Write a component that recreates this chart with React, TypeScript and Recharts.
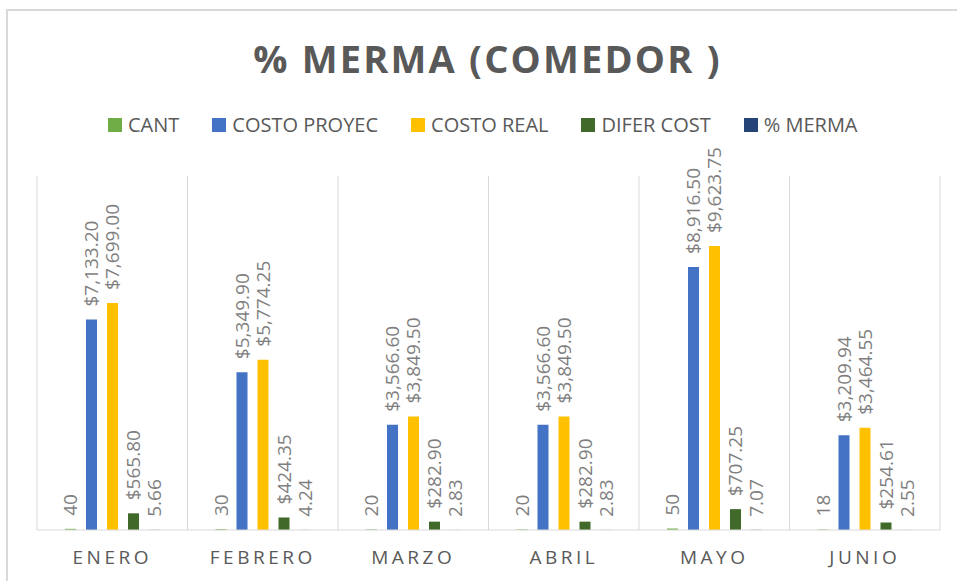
import React from 'react';
import { BarChart, Bar, XAxis, YAxis, CartesianGrid, LabelList } from 'recharts';

const months = ['ENERO', 'FEBRERO', 'MARZO', 'ABRIL', 'MAYO', 'JUNIO'];
const cant = [40, 30, 20, 20, 50, 18];
const costoProyec = [7133.2, 5349.9, 3566.6, 3566.6, 8916.5, 3209.94];
const costoReal = [7699.0, 5774.25, 3849.5, 3849.5, 9623.75, 3464.55];
const diferCost = [565.8, 424.35, 282.9, 282.9, 707.25, 254.61];
const merma = [5.66, 4.24, 2.83, 2.83, 7.07, 2.55];

const FONT = '"Open Sans", sans-serif';

const series = [
  { key: 'cant', name: 'CANT', color: '#70AD47', fmt: 'int' },
  { key: 'proyec', name: 'COSTO PROYEC', color: '#4472C4', fmt: 'money' },
  { key: 'real', name: 'COSTO REAL', color: '#FFC000', fmt: 'money' },
  { key: 'difer', name: 'DIFER COST', color: '#416A2A', fmt: 'money' },
  { key: 'merma', name: '% MERMA', color: '#264478', fmt: 'dec' },
];

const data = months.map((m, i) => ({
  month: m,
  cant: cant[i],
  proyec: costoProyec[i],
  real: costoReal[i],
  difer: diferCost[i],
  merma: merma[i],
}));

const formatValue = (v: number, fmt: string) => {
  if (fmt === 'int') return String(v);
  const s = v.toLocaleString('en-US', { minimumFractionDigits: 2, maximumFractionDigits: 2 });
  return fmt === 'money' ? `$${s}` : s;
};

const makeLabel = (fmt: string) => (props: any) => {
  const { x, y, width, value } = props;
  const cx = Number(x) + Number(width) / 2;
  const ty = Number(y) - 13;
  return (
    <text
      x={cx}
      y={ty}
      transform={`rotate(-90, ${cx}, ${ty})`}
      textAnchor="start"
      dominantBaseline="central"
      fill="#7F7F7F"
      fontSize={19}
      fontFamily={FONT}
    >
      {formatValue(value, fmt)}
    </text>
  );
};

const MonthTick = ({ x, y, payload }: any) => (
  <text
    x={x}
    y={y + 27}
    textAnchor="middle"
    dominantBaseline="central"
    fill="#595959"
    fontSize={19}
    fontFamily={FONT}
    letterSpacing={3.5}
  >
    {payload.value}
  </text>
);

export default function App() {
  return (
    <div style={{ position: 'absolute', left: 0, top: 0, width: 957, height: 581, background: '#fff', overflow: 'hidden', fontFamily: FONT }}>
      {/* chart frame */}
      <div style={{ position: 'absolute', left: 6, top: 9, width: 980, height: 620, borderTop: '2px solid #D9D9D9', borderLeft: '2px solid #D9D9D9' }} />
      <div
        style={{
          position: 'absolute', left: 9, top: 37, width: 957, lineHeight: '42px', textAlign: 'center',
          fontSize: 38, fontWeight: 700, color: '#595959', letterSpacing: 2.2,
        }}
      >
        % MERMA (COMEDOR )
      </div>
      <div style={{ position: 'absolute', left: 108, top: 111, height: 28, display: 'flex', alignItems: 'center', gap: 33 }}>
        {series.map((s) => (
          <div key={s.key} style={{ display: 'flex', alignItems: 'center', gap: 6 }}>
            <span style={{ width: 14, height: 14, background: s.color, display: 'inline-block' }} />
            <span style={{ fontSize: 20, color: '#595959', lineHeight: '28px' }}>{s.name}</span>
          </div>
        ))}
      </div>
      <BarChart
        width={957}
        height={581}
        data={data}
        margin={{ top: 176, right: 17, left: 37, bottom: 11 }}
        barSize={11}
        barGap={10}
      >
        <CartesianGrid
          horizontal={false}
          stroke="#D9D9D9"
          verticalCoordinatesGenerator={({ offset }: any) =>
            months.map((_, i) => offset.left + (i * offset.width) / months.length).concat(offset.left + offset.width)
          }
        />
        <XAxis
          dataKey="month"
          height={40}
          tickLine={false}
          tickSize={0}
          tickMargin={0}
          axisLine={{ stroke: '#D9D9D9' }}
          tick={<MonthTick />}
          interval={0}
        />
        <YAxis hide domain={[0, 12000]} />
        {series.map((s) => (
          <Bar key={s.key} dataKey={s.key} name={s.name} fill={s.color} isAnimationActive={false}>
            <LabelList dataKey={s.key} content={makeLabel(s.fmt)} />
          </Bar>
        ))}
      </BarChart>
    </div>
  );
}
